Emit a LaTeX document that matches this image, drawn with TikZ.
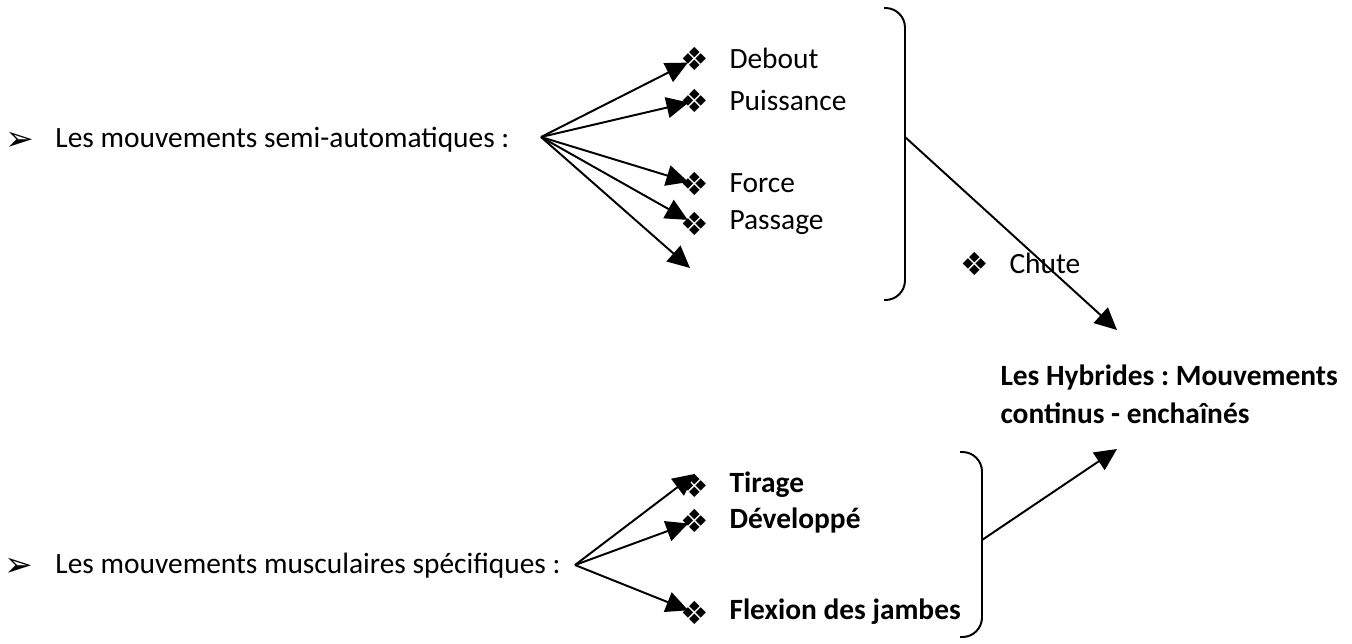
\documentclass[tikz,border=0pt]{standalone}
\usepackage{fontspec}
\setmainfont{Carlito}
\newfontfamily\dingfont{DejaVu Sans}
\usetikzlibrary{arrows.meta}
\frenchspacing

\begin{document}
\begin{tikzpicture}[
        x=0.408pt, y=-0.408pt,
        every node/.style={font=\fontsize{12}{15.5}\selectfont},
        label text/.style={anchor=west, inner sep=0pt},
        item text/.style={anchor=west, inner sep=0pt},
        bold item/.style={item text, font=\fontsize{12}{15.5}\selectfont\bfseries},
        arrow bullet/.style={inner sep=0pt, font=\dingfont\fontsize{14}{14}\selectfont},
        diamond bullet/.style={inner sep=0pt, font=\dingfont\fontsize{13}{13}\selectfont},
        link/.style={line width=0.8pt, -{Triangle[length=9pt,width=8.5pt]}},
        to bullet/.style={link, shorten >=-3.5pt},
        brace/.style={line width=0.8pt, rounded corners=8pt}
    ]
    \useasboundingbox (0,0) rectangle (1352,643);

    % Semi-automatic movements
    \node[arrow bullet] (a1) at (20,141) {➢};
    \node[label text] (semi) at (55,140) {Les mouvements semi-automatiques :};
    \coordinate (o1) at (541,137);

    \foreach \n/\y/\txt in {1/58/Debout, 2/100/Puissance, 3/183/Force, 4/223/Passage} {
        \node[diamond bullet] (s\n) at (695,\y+1) {❖};
        \node[item text] (st\n) at (729,\y) {\txt};
        \draw[to bullet] (o1) -- (s\n);
    }
    \coordinate (s5) at (690,268);
    \draw[link] (o1) -- (s5);

    % Chute
    \node[diamond bullet] (c) at (975,264) {❖};
    \node[item text] (ct) at (1009,263) {Chute};

    % Bracket 1
    \draw[brace] (884,8) -| (905,154) |- (884,300);
    \coordinate (br1) at (905,137);

    % Hybrides
    \node[bold item, align=left] (hyb) at (1000,394) {Les Hybrides : Mouvements\\continus - enchaînés};
    \coordinate (h1) at (1117,330);
    \coordinate (h2) at (1117,449);
    \draw[link] (br1) -- (h1);

    % Muscular movements
    \node[arrow bullet] (a2) at (19,567) {➢};
    \node[label text] (musc) at (55,566) {Les mouvements musculaires spécifiques :};
    \coordinate (o2) at (575,565);

    \foreach \n/\y/\txt in {1/485/Tirage, 2/520/Développé, 3/612/Flexion des jambes} {
        \node[diamond bullet] (m\n) at (695,\y+1) {❖};
        \node[bold item] (mt\n) at (729,\y) {\txt};
    }
    \draw[link] (o2) -- (m1.north);
    \draw[to bullet] (o2) -- (m2);
    \draw[to bullet] (o2) -- (m3);

    % Bracket 2
    \draw[brace] (960,452) -| (982,545) |- (960,637);
    \coordinate (br2) at (982,540);
    \draw[link] (br2) -- (h2);
\end{tikzpicture}
\end{document}
